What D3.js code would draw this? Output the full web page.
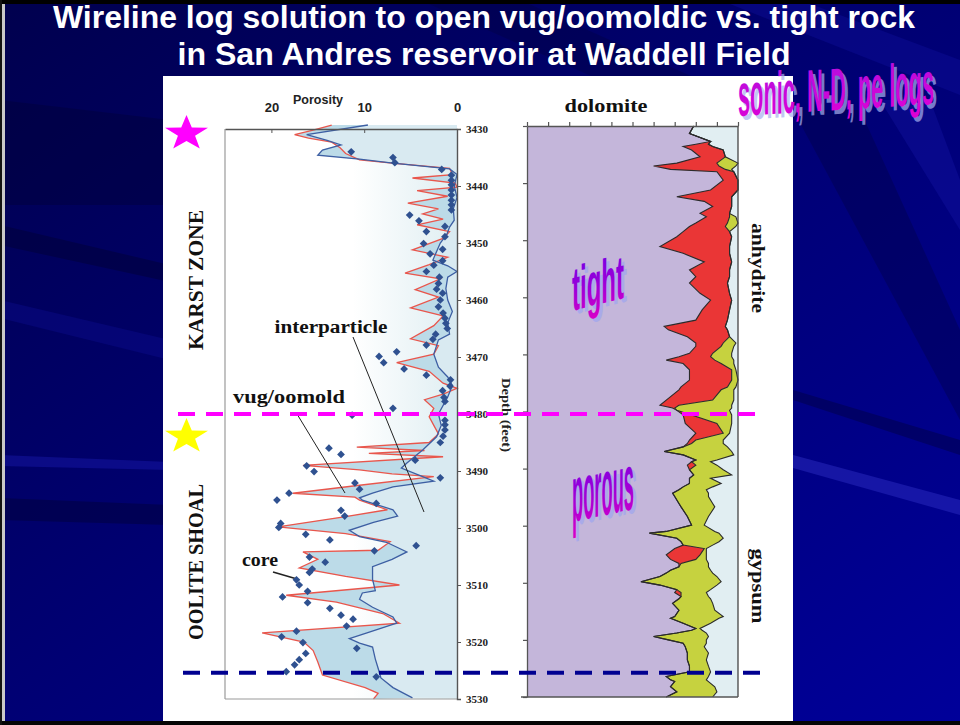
<!DOCTYPE html>
<html>
<head>
<meta charset="utf-8">
<script src="https://cdn.jsdelivr.net/npm/d3@7"></script>
<style>
  html, body { margin: 0; padding: 0; background: #000; }
  svg { display: block; }
</style>
</head>
<body>
<svg id="chart" width="960" height="725"></svg>
<script>
// ---------------- data ----------------
const titleLines = [
  "Wireline log solution to open vug/oomoldic vs. tight rock",
  "in San Andres reservoir at Waddell Field"
];
const depthTicks = [3430, 3440, 3450, 3460, 3470, 3480, 3490, 3500, 3510, 3520, 3530];
const porosityTicks = [20, 10, 0];
const lithTicks = [0, 10, 20, 30, 40, 50, 60, 70, 80, 90, 100];
const zoneBoundaries = [3480, 3525.4];   // karst / oolite contact, base marker

// total porosity log (red)
const totalDepth = [
  3429.3, 3430.2, 3431.0, 3431.6, 3432.3, 3433.3, 3434.3, 3435.4, 3436.0, 3436.9,
  3438.0, 3438.6, 3439.5, 3440.2, 3440.8, 3441.8, 3443.0, 3444.0, 3444.9, 3445.8,
  3446.8, 3448.0, 3449.2, 3451.2, 3452.5, 3453.8, 3455.3, 3456.3, 3458.2, 3459.5,
  3461.4, 3462.8, 3464.5, 3466.8, 3468.0, 3469.5, 3471.0, 3472.5, 3474.6, 3475.5,
  3476.5, 3477.5, 3479.0, 3480.5, 3482.0, 3483.5, 3485.0, 3485.8, 3486.4, 3486.9,
  3487.5, 3489.0, 3489.8, 3490.5, 3491.0, 3492.5, 3493.9, 3494.6, 3495.1, 3496.8,
  3498.0, 3499.8, 3501.0, 3502.4, 3503.9, 3504.2, 3505.5, 3507.0, 3508.5, 3510.0,
  3511.8, 3513.0, 3515.0, 3516.7, 3518.4, 3520.0, 3521.5, 3523.5, 3525.8, 3528.0,
  3529.0, 3530.0
];
const totalPorosity = [
  13.5, 15.5, 17.5, 16.0, 13.5, 12.6, 12.0, 10.5, 7.0, 0.8,
  0.5, 4.8, 0.2, 0.0, 4.3, 1.0, 5.3, 2.0, 3.7, 1.5,
  4.3, 0.8, 1.5, 4.8, 1.0, 3.0, 5.6, 1.8, 4.5, 2.0,
  5.0, 1.5, 2.5, 5.0, 2.0, 2.5, 6.5, 3.0, 1.5, 0.0,
  1.5, 3.5, 2.5, 3.0, 2.5, 2.0, 3.0, 10.8, 3.5, 9.5,
  1.5, 16.6, 10.5, 7.0, 2.5, 10.5, 17.7, 11.0, 10.5, 7.5,
  12.0, 19.3, 12.0, 7.2, 8.5, 16.6, 15.0, 17.0, 12.0, 6.2,
  18.4, 13.0, 8.0, 6.2, 21.0, 16.5, 15.5, 15.0, 14.5, 9.9,
  8.5, 9.0
];

// interparticle porosity log (blue)
const interDepth = [
  3429.3, 3431.0, 3432.0, 3432.8, 3433.7, 3434.6, 3435.3, 3436.0, 3437.0, 3438.0,
  3440.0, 3442.0, 3444.0, 3446.0, 3447.2, 3448.5, 3450.0, 3453.0, 3454.0, 3455.0,
  3456.0, 3458.0, 3460.0, 3462.0, 3464.0, 3466.0, 3467.0, 3469.5, 3471.8, 3473.5,
  3475.0, 3477.0, 3480.0, 3482.0, 3484.0, 3486.3, 3488.6, 3489.5, 3491.0, 3491.8,
  3492.8, 3493.9, 3494.7, 3495.1, 3496.8, 3497.9, 3499.0, 3500.4, 3501.5, 3502.5,
  3504.2, 3505.5, 3506.8, 3509.0, 3511.0, 3511.4, 3512.5, 3513.9, 3515.6, 3516.7,
  3518.4, 3519.4, 3520.2, 3520.9, 3523.0, 3524.6, 3526.3, 3528.0, 3529.8
];
const interPorosity = [
  9.6, 16.2, 14.0, 12.5, 14.5, 15.0, 10.5, 6.9, 0.8, 0.0,
  0.3, 0.0, 0.4, 0.3, 0.8, 1.1, 1.8, 2.6, 1.0, 0.0,
  1.0, 1.2, 1.0, 0.5, 1.0, 0.8, 2.0, 2.5, 2.0, 1.0,
  0.5, 1.0, 2.0, 1.7, 2.2, 3.7, 5.4, 6.0, 3.7, 2.5,
  6.9, 9.1, 10.5, 10.2, 6.9, 6.4, 9.0, 11.6, 10.5, 7.6,
  5.4, 7.0, 9.1, 9.1, 8.8, 10.2, 10.5, 9.1, 6.9, 6.5,
  9.7, 11.6, 10.5, 9.1, 8.8, 8.5, 8.2, 6.9, 4.8
];

// core plug porosity
const coreDepth = [
  3434.0, 3435.0, 3435.9, 3437.1, 3438.1, 3439.0, 3439.8, 3440.7, 3441.6, 3442.5,
  3443.3, 3444.2, 3445.1, 3446.1, 3447.1, 3448.0, 3448.9, 3450.1, 3451.1, 3451.9,
  3453.1, 3453.9, 3455.0, 3456.0, 3457.1, 3458.1, 3458.8, 3460.0, 3461.2, 3462.3,
  3463.2, 3464.1, 3465.0, 3466.0, 3466.9, 3467.9, 3469.1, 3469.9, 3471.0, 3472.1,
  3473.2, 3474.0, 3475.1, 3475.9, 3477.1, 3477.8, 3479.0, 3480.2, 3481.1, 3481.9,
  3482.8, 3483.9, 3485.0, 3486.0, 3487.1, 3488.1, 3489.1, 3490.1, 3491.2, 3492.1,
  3493.2, 3493.9, 3495.1, 3495.7, 3496.9, 3497.9, 3499.2, 3499.9, 3501.1, 3502.1,
  3503.1, 3504.0, 3505.1, 3506.0, 3507.2, 3507.8, 3509.1, 3510.0, 3511.1, 3512.1,
  3513.1, 3514.1, 3515.3, 3516.0, 3517.2, 3518.1, 3519.1, 3520.1, 3521.1, 3522.0,
  3523.1, 3524.0, 3525.2, 3526.1
];
const corePorosity = [
  11.4, 6.9, 6.7, 1.65, 0.6, 0.6, 0.6, 0.6, 0.6, 0.6,
  0.6, 0.6, 5.1, 4.1, 1.3, 3.3, 1.3, 3.6, 1.55, 2.9,
  1.55, 2.5, 3.3, 1.9, 2.0, 2.2, 1.55, 1.8, 2.0, 1.5,
  1.3, 1.2, 1.05, 2.3, 2.6, 3.3, 6.5, 8.4, 7.9, 5.7,
  3.3, 0.7, 0.75, 1.55, 1.4, 1.3, 6.9, 11.3, 1.3, 1.3,
  1.3, 1.5, 1.8, 13.8, 12.5, 4.5, 16.2, 15.4, 1.8, 11.0,
  10.5, 18.1, 19.4, 8.7, 12.5, 12.1, 19.0, 19.2, 16.3, 13.7,
  4.4, 8.9, 15.9, 14.2, 15.6, 15.9, 17.3, 17.0, 16.1, 18.8,
  16.1, 13.7, 12.5, 11.2, 11.9, 17.3, 18.9, 16.6, 10.8, 16.3,
  17.0, 17.5, 18.4, 8.7
];

// lithology fractions (%) from sonic / neutron-density / pe solution
const lithDepth = [
  3430.0, 3431.3, 3432.7, 3433.2, 3433.6, 3434.2, 3435.4, 3436.5, 3437.0, 3437.6,
  3438.0, 3439.5, 3441.2, 3442.4, 3443.2, 3444.1, 3445.3, 3445.9, 3447.0, 3447.6,
  3448.5, 3449.4, 3451.1, 3452.3, 3453.8, 3455.2, 3456.4, 3457.5, 3459.3, 3460.5,
  3462.2, 3464.0, 3465.1, 3465.7, 3466.9, 3468.0, 3468.6, 3469.8, 3470.4, 3471.0,
  3471.6, 3472.7, 3474.5, 3475.7, 3476.2, 3478.0, 3478.9, 3479.4, 3479.8, 3480.6,
  3482.1, 3483.8, 3485.0, 3485.6, 3486.2, 3487.0, 3487.6, 3488.5, 3488.8, 3489.4,
  3490.2, 3491.1, 3491.7, 3492.6, 3493.2, 3493.7, 3494.3, 3494.9, 3496.1, 3496.7,
  3498.4, 3499.9, 3501.0, 3501.3, 3502.2, 3502.8, 3503.4, 3504.0, 3505.1, 3505.9,
  3506.6, 3507.2, 3507.8, 3508.3, 3508.9, 3509.8, 3510.4, 3511.2, 3511.7, 3512.4,
  3512.8, 3513.6, 3514.8, 3515.9, 3516.2, 3517.1, 3518.0, 3518.3, 3518.8, 3519.4,
  3520.0, 3520.6, 3521.2, 3522.3, 3523.5, 3524.6, 3525.6, 3526.4, 3527.0, 3527.3,
  3528.2, 3529.1, 3530.0
];
const dolomite = [
  79, 77, 87, 80, 74, 78, 82, 71, 60, 68,
  90, 93, 87, 71, 84, 88, 82, 85, 80, 77,
  74, 71, 63, 74, 84, 77, 80, 77, 82, 87,
  83, 80, 65, 67, 76, 80, 80, 77, 72, 66,
  74, 77, 77, 73, 72, 66, 63, 69, 71, 74,
  75, 80, 77, 76, 74, 65, 74, 80, 78, 76,
  77, 79, 77, 77, 74, 72, 69, 70, 72, 73,
  76, 78, 66, 58, 71, 73, 74, 70, 66, 68,
  72, 72, 68, 66, 63, 54, 63, 71, 70, 73,
  72, 69, 72, 70, 68, 74, 80, 78, 71, 60,
  67, 74, 75, 76, 76, 77, 77, 66, 68, 70,
  68, 71, 66
];
const anhydrite = [
  0, 0, 0, 6, 14, 15, 12, 19, 31, 26,
  8, 7, 13, 26, 13, 9, 14, 11, 15, 17,
  22, 26, 33, 22, 13, 19, 16, 18, 14, 10,
  13, 15, 29, 28, 20, 13, 12, 11, 15, 23,
  18, 20, 20, 22, 20, 22, 9, 1, 0, 4,
  15, 13, 3, 2, 0, 0, 0, 0, 0, 4,
  0, 0, 0, 0, 0, 0, 0, 0, 0, 0,
  0, 0, 0, 0, 0, 0, 0, 14, 16, 12,
  1, 0, 0, 0, 0, 0, 0, 0, 3, 0,
  0, 0, 0, 0, 0, 0, 0, 0, 0, 0,
  0, 0, 0, 0, 0, 0, 0, 0, 0, 0,
  0, 0, 0
];
const gypsum = [
  0, 0, 0, 0, 0, 0, 0, 10, 8, 3,
  0, 0, 0, 0, 0, 0, 0, 3, 5, 5,
  0, 0, 0, 0, 0, 0, 0, 0, 0, 0,
  0, 0, 0, 0, 0, 6, 6, 9, 10, 9,
  6, 2, 3, 4, 6, 10, 25, 27, 25, 19,
  7, 3, 13, 15, 21, 32, 24, 10, 9, 10,
  16, 18, 10, 15, 14, 13, 17, 16, 16, 16,
  10, 6, 23, 33, 22, 18, 14, 1, 3, 5,
  13, 14, 19, 22, 27, 38, 27, 16, 12, 13,
  15, 19, 17, 23, 23, 13, 2, 5, 14, 26,
  18, 11, 9, 10, 9, 9, 10, 20, 17, 16,
  21, 19, 22
];

// ---------------- drawing ----------------
const svg = d3.select("#chart");
const defs = svg.append("defs");
const SERIF = "'Liberation Serif','Times New Roman',serif";
const SANS = "'Liberation Sans',Arial,sans-serif";

// slide background
const bgGrad = defs.append("linearGradient").attr("id", "bgGrad")
  .attr("x1", 0).attr("y1", 0).attr("x2", 1).attr("y2", 1);
bgGrad.append("stop").attr("offset", 0).attr("stop-color", "#00004e");
bgGrad.append("stop").attr("offset", 0.55).attr("stop-color", "#000078");
bgGrad.append("stop").attr("offset", 1).attr("stop-color", "#00009a");
svg.append("rect").attr("width", 960).attr("height", 725).attr("fill", "url(#bgGrad)");

// soft light rays across the slide
const rays = [
  {pts: [[0, 225], [170, 265], [170, 282], [0, 245]], c: "#000033", o: 0.45},
  {pts: [[0, 100], [170, 120], [170, 205], [0, 205]], c: "#000030", o: 0.35},
  {pts: [[0, 455], [170, 462], [170, 470], [0, 466]], c: "#2020c0", o: 0.35},
  {pts: [[0, 498], [170, 505], [170, 525], [0, 520]], c: "#000030", o: 0.4},
  {pts: [[0, 300], [170, 340], [170, 360], [0, 318]], c: "#1010a0", o: 0.3},
  {pts: [[793, 455], [960, 500], [960, 515], [793, 468]], c: "#3030c8", o: 0.45},
  {pts: [[793, 390], [960, 440], [960, 455], [793, 400]], c: "#000040", o: 0.45},
  {pts: [[793, 110], [860, 110], [960, 330], [960, 420]], c: "#000040", o: 0.35},
  {pts: [[880, 100], [930, 100], [960, 180], [960, 230]], c: "#1a1ab0", o: 0.3},
  {pts: [[420, 0], [520, 0], [700, 80], [600, 80]], c: "#000040", o: 0.35},
  {pts: [[720, 0], [800, 0], [960, 60], [960, 95]], c: "#1515a8", o: 0.3}
];
svg.append("g").selectAll("path").data(rays).join("path")
  .attr("d", d => "M" + d.pts.map(p => p.join(",")).join("L") + "Z")
  .attr("fill", d => d.c).attr("opacity", d => d.o);

// slide edges
svg.append("rect").attr("x", 0).attr("y", 0).attr("width", 960).attr("height", 4).attr("fill", "#000");
svg.append("rect").attr("x", 0).attr("y", 721).attr("width", 960).attr("height", 4).attr("fill", "#050505");
svg.append("rect").attr("x", 0).attr("y", 0).attr("width", 2).attr("height", 725).attr("fill", "#111");
svg.append("rect").attr("x", 2).attr("y", 4).attr("width", 3).attr("height", 717).attr("fill", "#c8c8c8");

// title
svg.append("g").selectAll("text").data(titleLines).join("text")
  .attr("x", 484).attr("y", (d, i) => i === 0 ? 28 : 65)
  .attr("text-anchor", "middle")
  .attr("font-family", SANS).attr("font-weight", "bold").attr("font-size", 31)
  .attr("fill", "#ffffff")
  .attr("textLength", (d, i) => i === 0 ? 862 : 613)
  .attr("lengthAdjust", "spacingAndGlyphs")
  .text(d => d);

// white picture panel
svg.append("rect").attr("x", 163).attr("y", 76).attr("width", 630).attr("height", 645).attr("fill", "#ffffff");

// ---------- porosity track ----------
const xL = d3.scaleLinear().domain([0, 25]).range([457, 225]);
const yL = d3.scaleLinear().domain([3430, 3530]).range([129, 699]);

const totalPts = totalDepth.map((d, i) => ({depth: d, por: totalPorosity[i]}));
const interPts = interDepth.map((d, i) => ({depth: d, por: interPorosity[i]}));
const corePts = coreDepth.map((d, i) => ({depth: d, por: corePorosity[i]}));

const trackGrad = defs.append("linearGradient").attr("id", "trackGrad")
  .attr("x1", 0).attr("y1", 0).attr("x2", 1).attr("y2", 0);
trackGrad.append("stop").attr("offset", 0).attr("stop-color", "#ffffff");
trackGrad.append("stop").attr("offset", 0.55).attr("stop-color", "#ffffff");
trackGrad.append("stop").attr("offset", 1).attr("stop-color", "#dfeef2");
const gL = svg.append("g");
gL.append("rect").attr("x", xL(25)).attr("y", yL(3430))
  .attr("width", xL(0) - xL(25)).attr("height", yL(3530) - yL(3430))
  .attr("fill", "url(#trackGrad)");

// interparticle share: from blue log to zero
gL.append("path").datum(interPts)
  .attr("d", d3.area().y(d => yL(d.depth)).x0(xL(0)).x1(d => xL(d.por)))
  .attr("fill", "#d9eaf1");

// vug / oomold share: between total and interparticle logs
const ptLine = d3.line().x(d => xL(d.por)).y(d => yL(d.depth));
const vugRing = totalPts.concat(interPts.slice().reverse());
gL.append("path").attr("d", ptLine(vugRing) + "Z")
  .attr("fill", "#bcdbe8").attr("fill-rule", "evenodd");

gL.append("path").datum(totalPts).attr("d", ptLine)
  .attr("fill", "none").attr("stroke", "#e9564c").attr("stroke-width", 1.3);
gL.append("path").datum(interPts).attr("d", ptLine)
  .attr("fill", "none").attr("stroke", "#3d5fa3").attr("stroke-width", 1.3);

// frame
gL.append("line").attr("x1", xL(25)).attr("x2", xL(25)).attr("y1", yL(3430)).attr("y2", yL(3530))
  .attr("stroke", "#9a9a9a").attr("stroke-width", 1.2);
gL.append("line").attr("x1", xL(25)).attr("x2", xL(0)).attr("y1", yL(3530)).attr("y2", yL(3530))
  .attr("stroke", "#9a9a9a").attr("stroke-width", 1.2);

// depth axis
const depthAxis = gL.append("g").attr("transform", `translate(${xL(0)},0)`)
  .call(d3.axisRight(yL).tickValues(depthTicks).tickSize(4).tickPadding(5).tickFormat(d3.format("d")));
depthAxis.select(".domain").attr("stroke", "#555").attr("stroke-width", 1.4);
depthAxis.selectAll(".tick line").attr("stroke", "#555");
depthAxis.selectAll("text").attr("font-family", SERIF).attr("font-weight", "bold")
  .attr("font-size", 11).attr("fill", "#222");

// porosity axis
const porAxis = gL.append("g").attr("transform", `translate(0,${yL(3430)})`)
  .call(d3.axisTop(xL).tickValues(porosityTicks).tickSize(-4).tickSizeOuter(0).tickPadding(17));
porAxis.select(".domain").attr("stroke", "#555").attr("stroke-width", 1.4);
porAxis.selectAll(".tick line").attr("stroke", "#555");
porAxis.selectAll("text").attr("font-family", SANS).attr("font-weight", "bold")
  .attr("font-size", 13).attr("fill", "#222");

gL.append("text").attr("x", 318).attr("y", 104).attr("text-anchor", "middle")
  .attr("font-family", SANS).attr("font-weight", "bold").attr("font-size", 12.5)
  .attr("fill", "#222").text("Porosity");

gL.append("text").attr("transform", "translate(502,415) rotate(90)")
  .attr("text-anchor", "middle")
  .attr("font-family", SERIF).attr("font-weight", "bold").attr("font-size", 13)
  .attr("textLength", 74).attr("lengthAdjust", "spacingAndGlyphs")
  .attr("fill", "#222").text("Depth (feet)");

// annotation leaders
const leaders = [
  {x1: 353, y1: 337, x2: 424, y2: 512},
  {x1: 297, y1: 414, x2: 345, y2: 493},
  {x1: 273, y1: 572, x2: 297, y2: 579}
];
gL.append("g").selectAll("line").data(leaders).join("line")
  .attr("x1", d => d.x1).attr("y1", d => d.y1).attr("x2", d => d.x2).attr("y2", d => d.y2)
  .attr("stroke", "#222").attr("stroke-width", (d, i) => i === 2 ? 1.6 : 1);

// core plugs
gL.append("g").selectAll("path").data(corePts).join("path")
  .attr("d", d3.symbol(d3.symbolSquare, 30))
  .attr("transform", d => `translate(${xL(d.por)},${yL(d.depth)}) rotate(45)`)
  .attr("fill", "#2f5190");

// annotation text
const notes = [
  {t: "interparticle", x: 331, y: 333, w: 113},
  {t: "vug/oomold", x: 289, y: 403, w: 112},
  {t: "core", x: 260, y: 566, w: 36}
];
gL.append("g").selectAll("text").data(notes).join("text")
  .attr("x", d => d.x).attr("y", d => d.y).attr("text-anchor", "middle")
  .attr("font-family", SERIF).attr("font-weight", "bold").attr("font-size", 18)
  .attr("textLength", d => d.w).attr("lengthAdjust", "spacingAndGlyphs")
  .attr("fill", "#111").text(d => d.t);

// zone names
const zones = [
  {t: "KARST ZONE", y: 280, w: 140},
  {t: "OOLITE SHOAL", y: 562, w: 156}
];
svg.append("g").selectAll("text").data(zones).join("text")
  .attr("transform", d => `translate(203,${d.y}) rotate(-90)`)
  .attr("text-anchor", "middle")
  .attr("font-family", SERIF).attr("font-weight", "bold").attr("font-size", 21)
  .attr("textLength", d => d.w).attr("lengthAdjust", "spacingAndGlyphs")
  .attr("fill", "#111").text(d => d.t);

// ---------- lithology track ----------
const xR = d3.scaleLinear().domain([0, 100]).range([527, 738]);
const yR = d3.scaleLinear().domain([3430, 3530]).range([126, 697]);

const lithRows = lithDepth.map((d, i) => ({depth: d, dol: dolomite[i], anh: anhydrite[i], gyp: gypsum[i]}));
const stacked = d3.stack().keys(["dol", "anh", "gyp"])(lithRows);
const lithColors = {dol: "#c4b6da", anh: "#ea3636", gyp: "#c6d23f"};

const gR = svg.append("g");
gR.append("rect").attr("x", xR(0)).attr("y", yR(3430))
  .attr("width", xR(100) - xR(0)).attr("height", yR(3530) - yR(3430))
  .attr("fill", "#e1eef2");

const lithArea = d3.area()
  .y((d, i) => yR(lithRows[i].depth))
  .x0(d => xR(d[0])).x1(d => xR(d[1]));
gR.append("g").selectAll("path").data(stacked).join("path")
  .attr("d", lithArea).attr("fill", s => lithColors[s.key]);

const lithEdge = d3.line().y((d, i) => yR(lithRows[i].depth)).x(d => xR(d[1]));
gR.append("g").selectAll("path").data(stacked).join("path")
  .attr("d", lithEdge).attr("fill", "none")
  .attr("stroke", "#2b2b2b").attr("stroke-width", 1.1);

// frame + ticks
gR.append("line").attr("x1", xR(100)).attr("x2", xR(100)).attr("y1", yR(3430)).attr("y2", yR(3530))
  .attr("stroke", "#444").attr("stroke-width", 1.3);
gR.append("line").attr("x1", xR(0) - 6).attr("x2", xR(100)).attr("y1", yR(3530)).attr("y2", yR(3530))
  .attr("stroke", "#555").attr("stroke-width", 1.3);
const lithTop = gR.append("g").attr("transform", `translate(0,${yR(3430)})`)
  .call(d3.axisTop(xR).tickValues(lithTicks).tickSize(4).tickSizeOuter(0).tickFormat(""));
const lithLeft = gR.append("g").attr("transform", `translate(${xR(0)},0)`)
  .call(d3.axisLeft(yR).tickValues(depthTicks).tickSize(4).tickSizeOuter(0).tickFormat(""));
[lithTop, lithLeft].forEach(a => {
  a.select(".domain").attr("stroke", "#555").attr("stroke-width", 1.3);
  a.selectAll(".tick line").attr("stroke", "#555").attr("stroke-width", 1.2);
});

gR.append("text").attr("x", 606).attr("y", 112).attr("text-anchor", "middle")
  .attr("font-family", SERIF).attr("font-weight", "bold").attr("font-size", 18)
  .attr("textLength", 83).attr("lengthAdjust", "spacingAndGlyphs")
  .attr("fill", "#111").text("dolomite");
const sideNames = [
  {t: "anhydrite", y: 268, w: 90},
  {t: "gypsum", y: 586, w: 75}
];
gR.append("g").selectAll("text").data(sideNames).join("text")
  .attr("transform", d => `translate(752,${d.y}) rotate(90)`)
  .attr("text-anchor", "middle")
  .attr("font-family", SERIF).attr("font-weight", "bold").attr("font-size", 18)
  .attr("textLength", d => d.w).attr("lengthAdjust", "spacingAndGlyphs")
  .attr("fill", "#111").text(d => d.t);

// ---------- zone markers ----------
const dashColors = ["#ff00ff", "#000090"];
const dashSpans = [[178, 756], [183, 760]];
svg.append("g").selectAll("line").data(zoneBoundaries).join("line")
  .attr("x1", (d, i) => dashSpans[i][0]).attr("x2", (d, i) => dashSpans[i][1])
  .attr("y1", d => yL(d)).attr("y2", d => yL(d))
  .attr("stroke", (d, i) => dashColors[i]).attr("stroke-width", 4)
  .attr("stroke-dasharray", "17,11");

function starPath(R, r) {
  const pts = [];
  for (let k = 0; k < 10; k++) {
    const a = -Math.PI / 2 + k * Math.PI / 5;
    const rr = k % 2 === 0 ? R : r;
    pts.push([rr * Math.cos(a), rr * Math.sin(a)]);
  }
  return "M" + pts.map(p => p.join(",")).join("L") + "Z";
}
const stars = [
  {x: 186.5, y: 133.5, c: "#ff00ff"},
  {x: 186.5, y: 436.5, c: "#ffff00"}
];
svg.append("g").selectAll("path").data(stars).join("path")
  .attr("d", starPath(22.6, 9.0))
  .attr("transform", d => `translate(${d.x},${d.y}) scale(1,0.82)`)
  .attr("fill", d => d.c);

// ---------- tall condensed highlight captions ----------
const capGrad = defs.append("linearGradient").attr("id", "capGrad")
  .attr("x1", 0).attr("y1", 0).attr("x2", 0).attr("y2", 1);
capGrad.append("stop").attr("offset", 0).attr("stop-color", "#6f00e6");
capGrad.append("stop").attr("offset", 0.5).attr("stop-color", "#9a00d8");
capGrad.append("stop").attr("offset", 1).attr("stop-color", "#d800c8");
const capGrad2 = defs.append("linearGradient").attr("id", "capGrad2")
  .attr("x1", 0).attr("y1", 0).attr("x2", 0).attr("y2", 1);
capGrad2.append("stop").attr("offset", 0).attr("stop-color", "#b010e0");
capGrad2.append("stop").attr("offset", 1).attr("stop-color", "#e000d4");

// small font stretched vertically: size sets the width, k the height
const captions = [
  {t: "tight", x: 572, y: 311, size: 24, k: 2.58, w: 52, skew: -14, fill: "url(#capGrad)", sh: "#9fa6f0"},
  {t: "porous", x: 572, y: 522, size: 18.3, k: 4.37, w: 62, skew: -12, fill: "url(#capGrad)", sh: "#9fa6f0"},
  {t: "sonic, N-D, pe logs", x: 738, y: 116, size: 21.8, k: 2.75, w: 196, skew: -3.5, fill: "url(#capGrad2)", sh: "#a7b0ee"}
];
const capG = svg.append("g").selectAll("g").data(captions).join("g")
  .attr("transform", d => `translate(${d.x},${d.y}) skewY(${d.skew}) scale(1,${d.k})`);
capG.append("text").attr("x", 3).attr("y", d => 4 / d.k)
  .attr("font-family", SANS).attr("font-weight", "bold")
  .attr("font-size", d => d.size).attr("textLength", d => d.w).attr("lengthAdjust", "spacingAndGlyphs")
  .attr("fill", d => d.sh).attr("opacity", 0.7).text(d => d.t);
capG.append("text").attr("x", 0).attr("y", 0)
  .attr("font-family", SANS).attr("font-weight", "bold")
  .attr("font-size", d => d.size).attr("textLength", d => d.w).attr("lengthAdjust", "spacingAndGlyphs")
  .attr("fill", d => d.fill).text(d => d.t);
</script>
</body>
</html>
